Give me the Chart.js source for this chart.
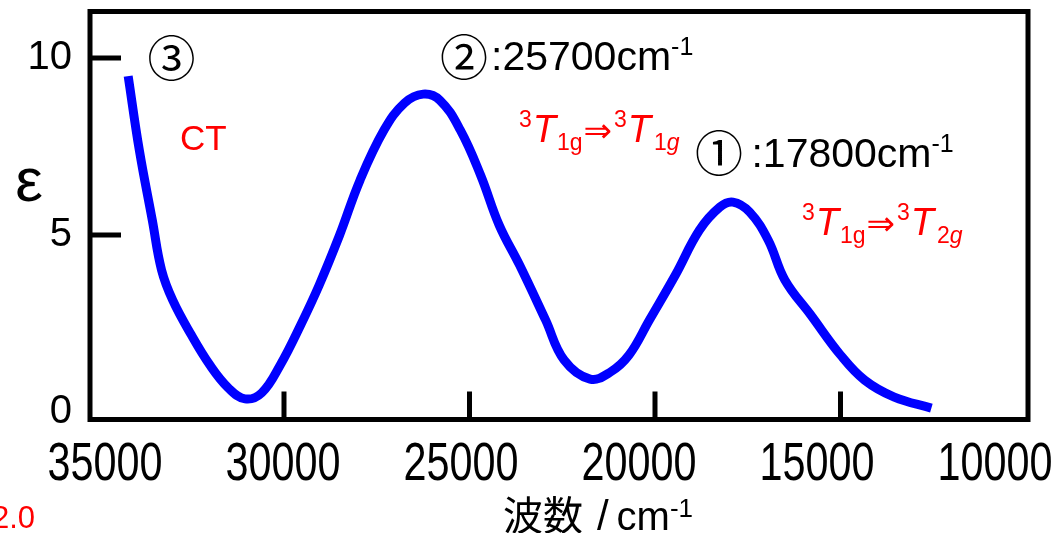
<!DOCTYPE html>
<html>
<head>
<meta charset="utf-8">
<script src="https://cdn.jsdelivr.net/npm/chart.js@4.4.1/dist/chart.umd.min.js"></script>
<style>
  html, body { margin: 0; padding: 0; background: #ffffff; }
  #wrap { width: 1059px; height: 533px; position: relative; }
</style>
</head>
<body>
<div id="wrap"><canvas id="c" width="1059" height="533"></canvas></div>
<script>
// ---- data ----
const wavenumber = [34200, 33900, 33550, 33300, 33000, 32500, 32000, 31500, 31050, 30600,
                    30100, 29550, 29050, 28500, 27950, 27300, 26750, 26250, 25800, 25250,
                    24700, 24200, 23650, 22950, 22450, 21750, 21200, 20700, 20150, 19450,
                    18800, 18250, 17900, 17450, 16950, 16500, 15800, 15000, 14350, 13550, 12550];
const epsilon = [9.49, 7.40, 5.42, 4.01, 3.16, 2.18, 1.33, 0.68, 0.37, 0.54,
                 1.33, 2.46, 3.59, 5.00, 6.55, 7.97, 8.73, 8.98, 8.81, 7.97,
                 6.69, 5.28, 4.15, 2.60, 1.47, 0.93, 1.13, 1.61, 2.60, 3.87,
                 5.14, 5.79, 5.93, 5.65, 4.86, 3.73, 2.74, 1.61, 0.90, 0.42, 0.11];
const xTickLabels = [35000, 30000, 25000, 20000, 15000, 10000];
const xTickMarks = [30000, 25000, 20000, 15000];
const yTickLabels = [0, 5, 10];
const yTickMarks = [5, 10];
const yTitle = 'ε';
const xTitle = { main: '波数', unit: 'cm', sup: '-1' };
const peakLabels = [
  { circle: '②', text: ':25700cm', sup: '-1' },
  { circle: '①', text: ':17800cm', sup: '-1' },
  { circle: '③' }
];
const ctLabel = 'CT';
const transitions = [
  ['3', 'T', '1g', '⇒', '3', 'T', '1', 'g'],
  ['3', 'T', '1g', '⇒', '3', 'T', '2', 'g']
];
const strayText = '2.0';

// ---- styling / placement ----
const SANS = "'Liberation Sans', Arial, 'Noto Sans CJK JP', sans-serif";
const CJK = "'Noto Sans CJK JP', 'Liberation Sans', sans-serif";
const RED = '#ff0000';

function rich(ctx, x, y, segs) {
  let cx = x;
  for (const s of segs) {
    ctx.font = (s.italic ? 'italic ' : '') + s.size + 'px ' + (s.family || SANS);
    ctx.fillStyle = s.color || '#000';
    cx += (s.pre || 0);
    ctx.fillText(s.t, cx, y + (s.dy || 0));
    cx += ctx.measureText(s.t).width + (s.post || 0);
  }
  return cx;
}

const decor = {
  id: 'decor',
  afterDatasetsDraw(chart) {
    const { ctx, chartArea: a, scales } = chart;
    const x = scales.x, y = scales.y, xl = scales.xl;
    ctx.save();
    // frame
    ctx.strokeStyle = '#000';
    ctx.lineWidth = 5;
    ctx.strokeRect(a.left, a.top, a.right - a.left, a.bottom - a.top);
    // inner tick marks
    ctx.beginPath();
    for (const v of xTickMarks) {
      const px = x.getPixelForValue(v);
      ctx.moveTo(px, a.bottom); ctx.lineTo(px, a.bottom - 28);
    }
    for (const v of yTickMarks) {
      const py = y.getPixelForValue(v);
      ctx.moveTo(a.left, py); ctx.lineTo(a.left + 31, py);
    }
    ctx.stroke();

    // x tick labels (tall, condensed)
    ctx.fillStyle = '#000';
    ctx.font = '53px ' + SANS;
    ctx.textAlign = 'center';
    ctx.textBaseline = 'alphabetic';
    for (const v of xTickLabels) {
      ctx.save();
      ctx.translate(xl.getPixelForValue(v), 480);
      ctx.scale(0.78, 1);
      ctx.fillText(String(v), 0, 0);
      ctx.restore();
    }

    // y title
    ctx.font = '62px ' + SANS;
    ctx.textAlign = 'center';
    ctx.fillText(yTitle, a.left - 61, y.getPixelForValue(6.44) + 17);

    // x title
    ctx.textAlign = 'left';
    const tx = x.getPixelForValue(24100);
    rich(ctx, tx, 530, [
      { t: xTitle.main, size: 40, family: CJK },
      { t: '/', size: 42, pre: 14 },
      { t: xTitle.unit, size: 40, pre: 8 },
      { t: xTitle.sup, size: 26, dy: -13 }
    ]);

    // circled numbers
    ctx.textAlign = 'center';
    ctx.textBaseline = 'middle';
    ctx.font = '48px ' + CJK;
    ctx.fillStyle = '#000';
    ctx.fillText(peakLabels[2].circle, x.getPixelForValue(33033), y.getPixelForValue(10.01));
    ctx.fillText(peakLabels[0].circle, x.getPixelForValue(25150), y.getPixelForValue(10.03));
    ctx.fillText(peakLabels[1].circle, x.getPixelForValue(18278), y.getPixelForValue(7.32));

    ctx.textAlign = 'left';
    ctx.textBaseline = 'alphabetic';
    rich(ctx, x.getPixelForValue(24420), y.getPixelForValue(9.66), [
      { t: peakLabels[0].text, size: 41 },
      { t: peakLabels[0].sup, size: 25, dy: -15 }
    ]);
    rich(ctx, x.getPixelForValue(17400), y.getPixelForValue(6.92), [
      { t: peakLabels[1].text, size: 41 },
      { t: peakLabels[1].sup, size: 25, dy: -15 }
    ]);

    // CT
    ctx.font = '35px ' + SANS;
    ctx.fillStyle = RED;
    ctx.fillText(ctLabel, x.getPixelForValue(32804), y.getPixelForValue(7.40));

    // transitions
    const tr = (t, px, py) => rich(ctx, px, py, [
      { t: t[0], size: 23, dy: -15, color: RED },
      { t: t[1], size: 38, italic: true, color: RED, pre: 1 },
      { t: t[2], size: 23, dy: 8, color: RED, pre: 1 },
      { t: t[3], size: 34, color: RED, family: "'DejaVu Sans', sans-serif", pre: 1 },
      { t: t[4], size: 23, dy: -15, color: RED, pre: 2 },
      { t: t[5], size: 38, italic: true, color: RED, pre: 1 },
      { t: t[6], size: 23, dy: 8, color: RED, pre: 3 },
      { t: t[7], size: 23, dy: 8, italic: true, color: RED }
    ]);
    tr(transitions[0], x.getPixelForValue(23668), y.getPixelForValue(7.63));
    tr(transitions[1], x.getPixelForValue(16041), y.getPixelForValue(5.0));

    // stray red label at bottom-left
    ctx.font = '31px ' + SANS;
    ctx.fillStyle = RED;
    ctx.textAlign = 'right';
    ctx.fillText(strayText, 35, 528);
    ctx.restore();
  }
};

new Chart(document.getElementById('c'), {
  type: 'scatter',
  data: {
    datasets: [{
      data: wavenumber.map((w, i) => ({ x: w, y: epsilon[i] })),
      showLine: true,
      borderColor: '#0000ff',
      borderWidth: 9,
      borderCapStyle: 'butt',
      borderJoinStyle: 'round',
      tension: 0.4,
      pointRadius: 0,
      pointHoverRadius: 0,
      fill: false
    }]
  },
  options: {
    responsive: false,
    devicePixelRatio: 1,
    animation: false,
    layout: { padding: { left: 0, right: 31, top: 11.5, bottom: 0 } },
    plugins: { legend: { display: false }, tooltip: { enabled: false } },
    scales: {
      x: {
        type: 'linear', reverse: true, min: 9946, max: 35229,
        grid: { display: false }, border: { display: false },
        ticks: { display: false },
        afterFit: s => { s.height = 113.5; s.paddingLeft = 0; s.paddingRight = 0; }
      },
      xl: {
        type: 'linear', axis: 'x', position: 'bottom', reverse: true, min: 9073, max: 35421,
        display: false
      },
      y: {
        type: 'linear', min: -0.212, max: 11.314,
        grid: { display: false, drawTicks: false }, border: { display: false },
        afterBuildTicks: s => { s.ticks = yTickLabels.map(v => ({ value: v })); },
        ticks: { color: '#000', padding: 18, font: { size: 40, family: SANS }, autoSkip: false },
        afterFit: s => { s.width = 90; s.paddingTop = 0; s.paddingBottom = 0; }
      }
    }
  },
  plugins: [decor]
});
</script>
</body>
</html>
